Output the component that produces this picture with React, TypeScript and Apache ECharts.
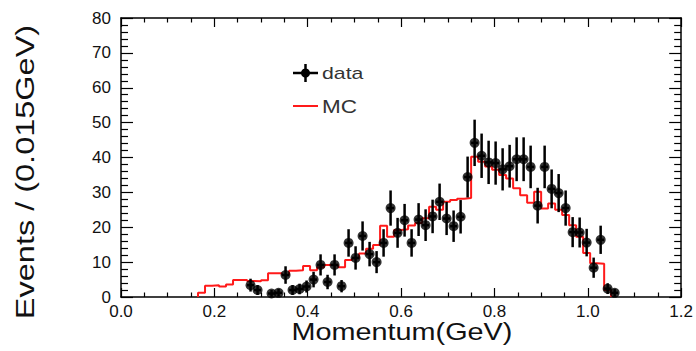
import React, { useEffect, useRef } from "react";
import * as echarts from "echarts";

// Histogram binning (GeV)
const binWidth = 0.015;

// MC histogram: first bin index and per-bin contents
const mcStartBin = 11;
const mcValues = [
  1.2, 3.2, 3.4, 3.0, 3.6, 4.9, 4.9, 4.6, 4.5, 4.8,
  6.8, 6.8, 6.3, 7.5, 7.7, 8.9, 7.7, 8.5, 9.2, 9.2,
  8.5, 10.6, 11.1, 12.5, 13.8, 14.9, 20.4, 17.3, 19.2, 19.4,
  20.5, 21.2, 22.6, 25.9, 25.0, 27.3, 27.8, 28.2, 28.4, 40.2,
  38.8, 37.4, 36.5, 35.0, 34.0, 31.2, 29.2, 27.0, 30.2, 25.4,
  26.8, 25.0, 23.5, 20.6, 17.3, 12.6, 9.7, 9.5, 2.0,
];

// Data: first bin index and per-bin contents (null = empty bin)
const dataStartBin = 18;
const dataValues: (number | null)[] = [
  3.4, 2.0, null, 1.0, 1.2, 6.3, 2.0, 2.3, 3.0, 5.0,
  9.2, 4.3, 9.2, 3.1, 15.5, 11.2, 17.5, 12.3, 10.0, 15.5,
  25.5, 18.4, 22.0, 15.5, 22.2, 20.6, 23.1, 27.3, 22.5, 20.3,
  23.0, 34.4, 44.2, 40.5, 38.6, 38.4, 36.6, 37.5, 39.5, 39.5,
  37.3, 26.2, 37.3, 31.0, 29.8, 25.5, 18.6, 18.5, 15.6, 8.4,
  16.4, 2.4, 1.2,
];

// Axis ranges / ticks
const xMin = 0, xMax = 1.2, xInterval = 0.2;
const yMin = 0, yMax = 80, yInterval = 10;

const xTitle = "Momentum(GeV)";
const yTitle = "Events / (0.015GeV)";
const legendData = "data";
const legendMC = "MC";

const FONT = "'Liberation Sans', Arial, Helvetica, sans-serif";

export default function App() {
  const ref = useRef<HTMLDivElement>(null);

  useEffect(() => {
    if (!ref.current) return;
    const chart = echarts.init(ref.current, null, { renderer: "svg" });

    // MC step line through bin edges
    const mcPoints: number[][] = [];
    const firstEdge = mcStartBin * binWidth;
    mcPoints.push([firstEdge, 0]);
    mcValues.forEach((v, i) => {
      mcPoints.push([(mcStartBin + i) * binWidth, v]);
    });
    const lastEdge = (mcStartBin + mcValues.length) * binWidth;
    mcPoints.push([lastEdge, mcValues[mcValues.length - 1]]);
    mcPoints.push([lastEdge, 0]);

    const pts: number[][] = [];
    dataValues.forEach((v, i) => {
      if (v === null) return;
      const x = (dataStartBin + i + 0.5) * binWidth;
      pts.push([x, v, Math.sqrt(v)]);
    });

    const tickStyle = { color: "#000", width: 1.2 };
    const axisLineStyle = { show: true, lineStyle: { color: "#000", width: 1.5 } };

    const mkX = (pos: "bottom" | "top", labels: boolean) => ({
      type: "value",
      position: pos,
      min: xMin,
      max: xMax,
      interval: xInterval,
      axisLine: { ...axisLineStyle, onZero: false },
      axisTick: { show: true, inside: true, length: 9, lineStyle: tickStyle },
      minorTick: { show: true, splitNumber: 4, length: 4.5, lineStyle: tickStyle },
      splitLine: { show: false },
      axisLabel: {
        show: labels,
        fontSize: 17,
        fontFamily: FONT,
        color: "#111",
        margin: 6,
        formatter: (v: number) => v.toFixed(1),
      },
    });
    const mkY = (pos: "left" | "right", labels: boolean) => ({
      type: "value",
      position: pos,
      min: yMin,
      max: yMax,
      interval: yInterval,
      axisLine: { ...axisLineStyle, onZero: false },
      axisTick: { show: true, inside: true, length: 12, lineStyle: tickStyle },
      minorTick: { show: true, splitNumber: 5, length: 7, lineStyle: tickStyle },
      splitLine: { show: false },
      axisLabel: {
        show: labels,
        fontSize: 17,
        fontFamily: FONT,
        color: "#111",
        margin: 10,
      },
    });

    chart.setOption({
      animation: false,
      backgroundColor: "#fff",
      grid: { left: 121, right: 13, top: 18, bottom: 54, containLabel: false },
      xAxis: [mkX("bottom", true), mkX("top", false)],
      yAxis: [mkY("left", true), mkY("right", false)],
      series: [
        {
          type: "line",
          name: legendMC,
          data: mcPoints,
          step: "end",
          showSymbol: false,
          symbol: "none",
          lineStyle: { color: "#ff1a1a", width: 2 },
          z: 2,
        },
        {
          type: "custom",
          name: "errors",
          data: pts,
          z: 3,
          renderItem: (params: any, api: any) => {
            const x = api.value(0);
            const y = api.value(1);
            const e = api.value(2);
            const top = api.coord([x, y + e]);
            const bot = api.coord([x, Math.max(0, y - e)]);
            const l = api.coord([x - binWidth / 2, y]);
            const r = api.coord([x + binWidth / 2, y]);
            return {
              type: "group",
              children: [
                {
                  type: "line",
                  shape: { x1: top[0], y1: top[1], x2: bot[0], y2: bot[1] },
                  style: { stroke: "#000", lineWidth: 2.5 },
                },
                {
                  type: "line",
                  shape: { x1: l[0], y1: l[1], x2: r[0], y2: r[1] },
                  style: { stroke: "#000", lineWidth: 2.5 },
                },
              ],
            };
          },
        },
        {
          type: "scatter",
          name: legendData,
          data: pts.map((p) => [p[0], p[1]]),
          symbol: "circle",
          symbolSize: 10,
          itemStyle: { color: "#000" },
          z: 4,
        },
      ],
      graphic: [
        {
          type: "text",
          x: 402,
          y: 332,
          scaleX: 1.2,
          style: {
            text: xTitle,
            font: `24px ${FONT}`,
            fill: "#111",
            align: "center",
            verticalAlign: "middle",
          },
        },
        {
          type: "text",
          x: 25,
          y: 172,
          rotation: Math.PI / 2,
          scaleX: 1.3,
          style: {
            text: yTitle,
            font: `25px ${FONT}`,
            fill: "#111",
            align: "center",
            verticalAlign: "middle",
          },
        },
        // legend: data marker
        {
          type: "line",
          shape: { x1: 293, y1: 73, x2: 318, y2: 73 },
          style: { stroke: "#000", lineWidth: 2.5 },
        },
        {
          type: "line",
          shape: { x1: 305.5, y1: 64, x2: 305.5, y2: 82 },
          style: { stroke: "#000", lineWidth: 2.5 },
        },
        {
          type: "circle",
          shape: { cx: 305.5, cy: 73, r: 4.5 },
          style: { fill: "#000" },
        },
        {
          type: "text",
          x: 322,
          y: 73,
          scaleX: 1.25,
          style: {
            text: legendData,
            font: `17px ${FONT}`,
            fill: "#333",
            align: "left",
            verticalAlign: "middle",
          },
        },
        // legend: MC line
        {
          type: "line",
          shape: { x1: 293, y1: 106, x2: 318, y2: 106 },
          style: { stroke: "#ff1a1a", lineWidth: 2 },
        },
        {
          type: "text",
          x: 322,
          y: 107,
          scaleX: 1.25,
          style: {
            text: legendMC,
            font: `18px ${FONT}`,
            fill: "#333",
            align: "left",
            verticalAlign: "middle",
          },
        },
      ],
    });

    return () => chart.dispose();
  }, []);

  return (
    <div
      ref={ref}
      style={{ position: "fixed", left: 0, top: 0, width: 696, height: 351 }}
    />
  );
}
